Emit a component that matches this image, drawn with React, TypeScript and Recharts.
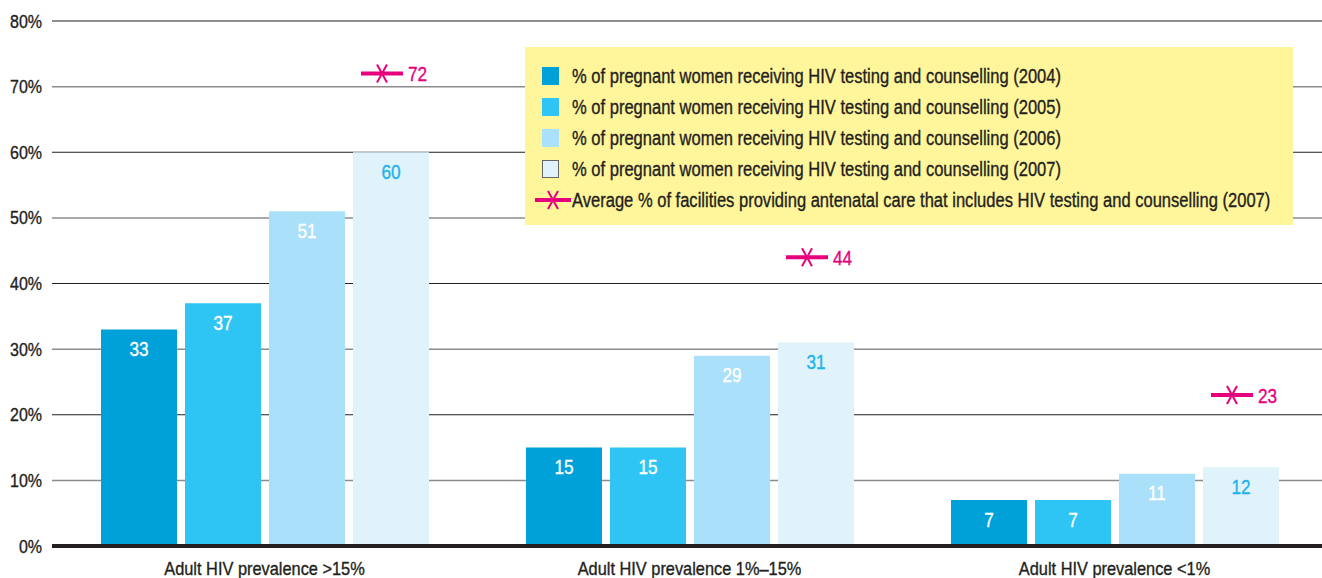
import React from 'react';
import { ComposedChart, Bar, Line, XAxis, YAxis, CartesianGrid, LabelList, Legend } from 'recharts';

const categories = ['Adult HIV prevalence >15%', 'Adult HIV prevalence 1%\u201315%', 'Adult HIV prevalence <1%'];
const testing2004 = [33, 15, 7];
const testing2005 = [37, 15, 7];
const testing2006 = [51, 29, 11];
const testing2007 = [60, 31, 12];
const facilities2007 = [72, 44, 23];
const yTicks = [0, 10, 20, 30, 40, 50, 60, 70, 80];
const seriesNames = [
  '% of pregnant women receiving HIV testing and counselling (2004)',
  '% of pregnant women receiving HIV testing and counselling (2005)',
  '% of pregnant women receiving HIV testing and counselling (2006)',
  '% of pregnant women receiving HIV testing and counselling (2007)',
  'Average % of facilities providing antenatal care that includes HIV testing and counselling (2007)',
];

const colors = ['#00a0d9', '#2ec5f4', '#aae0fa', '#e0f3fb'];
const magenta = '#e6007e';
const FONT = '"Liberation Sans", Arial, sans-serif';
const TEXT = '#231f20';
const SX = 0.845;

const data = categories.map((c, i) => ({
  name: c,
  y2004: testing2004[i],
  y2005: testing2005[i],
  y2006: testing2006[i],
  y2007: testing2007[i],
  fac: facilities2007[i],
}));

const barKeys = ['y2004', 'y2005', 'y2006', 'y2007'];

const NText = ({ x, y, anchor = 'start', size, fill, sx = SX, children }: any) => (
  <text
    transform={`translate(${x},${y}) scale(${sx},1)`}
    textAnchor={anchor}
    fontSize={size}
    fontFamily={FONT}
    fill={fill}
    stroke={fill}
    strokeWidth={0.35}
  >
    {children}
  </text>
);

const makeLabel = (color: string) => (props: any) => {
  const { x, y, width, value } = props;
  return (
    <NText x={x + width / 2} y={y + 26.5} anchor="middle" size={21} sx={0.82} fill={color}>
      {value}
    </NText>
  );
};

const MarkerDot = (props: any) => {
  const { cx, cy, value, index } = props;
  if (cx == null || cy == null) return null;
  const x = cx + 117.5;
  return (
    <g key={`m-${index}`}>
      <line x1={x - 21} y1={cy} x2={x + 21} y2={cy} stroke={magenta} strokeWidth={4} />
      <line x1={x - 5} y1={cy - 9} x2={x + 5} y2={cy + 9} stroke={magenta} strokeWidth={2} />
      <line x1={x + 5} y1={cy - 9} x2={x - 5} y2={cy + 9} stroke={magenta} strokeWidth={2} />
      <NText x={x + 26} y={cy + 7.5} size={21} sx={0.82} fill={magenta}>{value}</NText>
    </g>
  );
};

const LegendBox = () => (
  <div style={{ position: 'relative', width: 768, height: 178, background: '#fff59b', fontFamily: FONT, fontSize: 19.5, color: TEXT }}>
    {seriesNames.map((n, i) => {
      const cy = 28.7 + i * 31;
      return (
        <div key={i}>
          {i < 4 ? (
            <span style={{ position: 'absolute', left: 17, top: cy - 9, width: 17, height: 18, background: colors[i], boxSizing: 'border-box', border: i === 3 ? '1px solid #666' : 'none' }} />
          ) : (
            <svg width={40} height={22} style={{ position: 'absolute', left: 8, top: cy - 11 }}>
              <line x1={2} y1={11} x2={38} y2={11} stroke={magenta} strokeWidth={4} />
              <line x1={15} y1={2} x2={25} y2={20} stroke={magenta} strokeWidth={2} />
              <line x1={25} y1={2} x2={15} y2={20} stroke={magenta} strokeWidth={2} />
            </svg>
          )}
          <span
            style={{
              position: 'absolute',
              left: 46.5,
              top: cy - 12,
              lineHeight: '24px',
              whiteSpace: 'nowrap',
              transform: 'scaleX(0.848)',
              transformOrigin: '0 50%',
              WebkitTextStroke: '0.35px #231f20',
            }}
          >
            {n}
          </span>
        </div>
      );
    })}
  </div>
);

const GridLine = (props: any) => {
  const { x1, x2, y1, y2, index } = props;
  const dark = index % 2 === 0;
  return (
    <line key={`g-${index}`} x1={x1} x2={x2} y1={y1} y2={y2} stroke={dark ? '#231f20' : '#8c8c8c'} strokeWidth={dark ? 1 : 1.5} />
  );
};

export default function App() {
  return (
    <div style={{ position: 'absolute', left: 0, top: 0, width: 1322, height: 578, background: '#fff', overflow: 'hidden' }}>
      <ComposedChart width={1327} height={578} data={data} margin={{ top: 21, right: 0, bottom: 0, left: 0 }} barGap={8}>
        <CartesianGrid vertical={false} horizontal={GridLine as any} />
        <XAxis
          dataKey="name"
          height={32}
          tickLine={false}
          tickSize={0}
          axisLine={{ stroke: '#231f20', strokeWidth: 4 }}
          tick={(p: any) => (
            <NText x={p.x} y={p.y + 27} anchor="middle" size={18.5} sx={0.885} fill={TEXT}>
              {p.payload.value}
            </NText>
          )}
        />
        <YAxis
          width={52}
          domain={[0, 80]}
          ticks={yTicks}
          interval={0}
          axisLine={false}
          tickLine={false}
          tickSize={0}
          tickMargin={10}
          tick={(p: any) => (
            <NText x={p.x} y={p.y + 6.5} anchor="end" size={18.5} sx={0.865} fill={TEXT}>
              {`${p.payload.value}%`}
            </NText>
          )}
        />
        <Legend
          layout="horizontal"
          verticalAlign="middle"
          align="center"
          content={() => <LegendBox />}
          wrapperStyle={{ left: 525, top: 47, width: 768, height: 178 }}
        />
        {barKeys.map((k, i) => (
          <Bar key={k} dataKey={k} name={seriesNames[i]} fill={colors[i]} barSize={76} isAnimationActive={false}>
            <LabelList dataKey={k} content={makeLabel(i === 3 ? '#1eb2ec' : '#ffffff')} />
          </Bar>
        ))}
        <Line dataKey="fac" name={seriesNames[4]} stroke="none" dot={MarkerDot} activeDot={false} isAnimationActive={false} legendType="none" />
      </ComposedChart>
    </div>
  );
}
